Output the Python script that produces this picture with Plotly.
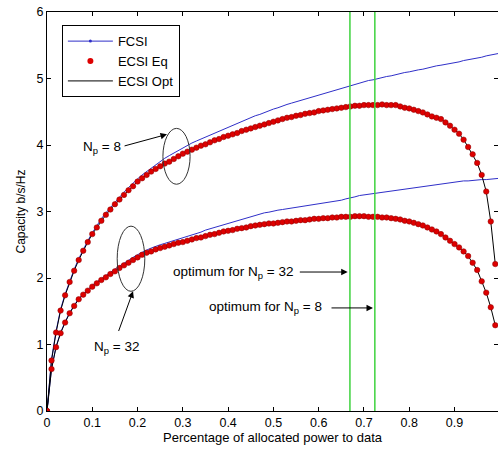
import plotly.graph_objects as go

# ---------------- data ----------------
x_red = [i / 100 for i in range(100)]          # 0.00 ... 0.99
x_blue = [i / 100 for i in range(101)]         # 0.00 ... 1.00

ecsi_np8 = [0.00, 0.76, 1.18, 1.51, 1.74, 1.94, 2.11, 2.27, 2.41, 2.54,
            2.66, 2.76, 2.86, 2.95, 3.03, 3.11, 3.18, 3.25, 3.32, 3.38,
            3.45, 3.50, 3.55, 3.60, 3.64, 3.68, 3.72, 3.75, 3.79, 3.83,
            3.87, 3.90, 3.93, 3.96, 3.99, 4.01, 4.04, 4.07, 4.09, 4.12,
            4.14, 4.16, 4.18, 4.21, 4.23, 4.25, 4.27, 4.29, 4.31, 4.33,
            4.35, 4.37, 4.39, 4.41, 4.42, 4.44, 4.45, 4.47, 4.48, 4.49,
            4.51, 4.52, 4.53, 4.54, 4.55, 4.56, 4.57, 4.58, 4.59, 4.59,
            4.60, 4.60, 4.60, 4.60, 4.61, 4.60, 4.60, 4.60, 4.58, 4.56,
            4.55, 4.53, 4.51, 4.49, 4.46, 4.43, 4.41, 4.39, 4.34, 4.29,
            4.23, 4.17, 4.08, 3.97, 3.86, 3.73, 3.55, 3.30, 2.85, 2.21]

ecsi_np32 = [0.00, 0.63, 0.96, 1.17, 1.33, 1.47, 1.58, 1.68, 1.75, 1.81,
             1.87, 1.92, 1.97, 2.01, 2.06, 2.10, 2.15, 2.19, 2.23, 2.27,
             2.31, 2.35, 2.38, 2.40, 2.43, 2.45, 2.47, 2.49, 2.51, 2.53,
             2.54, 2.56, 2.58, 2.60, 2.61, 2.63, 2.65, 2.66, 2.68, 2.70,
             2.71, 2.72, 2.74, 2.75, 2.76, 2.78, 2.79, 2.80, 2.81, 2.82,
             2.82, 2.83, 2.84, 2.85, 2.85, 2.86, 2.87, 2.87, 2.88, 2.89,
             2.89, 2.90, 2.90, 2.91, 2.91, 2.92, 2.92, 2.92, 2.93, 2.93,
             2.93, 2.92, 2.92, 2.92, 2.91, 2.91, 2.90, 2.89, 2.88, 2.86,
             2.85, 2.83, 2.81, 2.79, 2.76, 2.73, 2.70, 2.66, 2.61, 2.56,
             2.51, 2.46, 2.40, 2.33, 2.23, 2.12, 1.95, 1.78, 1.56, 1.29]

fcsi_np8 = [0.00, 0.78, 1.20, 1.53, 1.76, 1.96, 2.13, 2.29, 2.43, 2.56,
            2.68, 2.79, 2.89, 2.98, 3.06, 3.14, 3.21, 3.29, 3.36, 3.43,
            3.49, 3.55, 3.60, 3.66, 3.71, 3.75, 3.80, 3.84, 3.88, 3.92,
            3.96, 3.99, 4.03, 4.06, 4.09, 4.12, 4.15, 4.18, 4.21, 4.24,
            4.27, 4.30, 4.33, 4.36, 4.38, 4.41, 4.44, 4.46, 4.49, 4.51,
            4.54, 4.56, 4.59, 4.61, 4.63, 4.65, 4.67, 4.69, 4.71, 4.73,
            4.75, 4.77, 4.79, 4.81, 4.83, 4.85, 4.87, 4.89, 4.91, 4.93,
            4.95, 4.97, 4.98, 5.00, 5.01, 5.03, 5.04, 5.06, 5.07, 5.09,
            5.10, 5.12, 5.13, 5.14, 5.16, 5.17, 5.19, 5.20, 5.21, 5.23,
            5.24, 5.25, 5.27, 5.28, 5.30, 5.31, 5.32, 5.34, 5.35, 5.37,
            5.38]

fcsi_np32 = [0.00, 0.64, 0.97, 1.18, 1.34, 1.48, 1.59, 1.69, 1.76, 1.83,
             1.89, 1.94, 1.99, 2.04, 2.09, 2.13, 2.18, 2.22, 2.27, 2.31,
             2.35, 2.39, 2.42, 2.45, 2.48, 2.50, 2.52, 2.54, 2.56, 2.58,
             2.60, 2.62, 2.64, 2.67, 2.69, 2.72, 2.74, 2.76, 2.79, 2.81,
             2.83, 2.85, 2.87, 2.89, 2.91, 2.93, 2.95, 2.96, 2.98, 2.99,
             3.01, 3.02, 3.03, 3.04, 3.06, 3.07, 3.08, 3.09, 3.10, 3.11,
             3.12, 3.13, 3.14, 3.15, 3.16, 3.17, 3.19, 3.20, 3.22, 3.24,
             3.25, 3.26, 3.27, 3.28, 3.29, 3.30, 3.31, 3.32, 3.33, 3.34,
             3.35, 3.36, 3.37, 3.38, 3.39, 3.40, 3.41, 3.42, 3.43, 3.43,
             3.44, 3.45, 3.46, 3.46, 3.47, 3.47, 3.48, 3.48, 3.49, 3.49,
             3.50]

optimum_x = [0.669, 0.724]     # optimum for Np=32, Np=8
x_ticks = [0, 0.1, 0.2, 0.3, 0.4, 0.5, 0.6, 0.7, 0.8, 0.9]
y_ticks = [0, 1, 2, 3, 4, 5, 6]

FONT = "Arial, Liberation Sans, sans-serif"
BLUE = "#2f2fc8"
RED = "#dd0000"

fig = go.Figure()

# FCSI (blue)
for ys in [fcsi_np8, fcsi_np32]:
    fig.add_trace(go.Scatter(
        x=x_blue, y=ys, mode="lines", name="FCSI",
        line=dict(color=BLUE, width=1), showlegend=False))

# ECSI Opt (black line)
for ys in [ecsi_np8, ecsi_np32]:
    fig.add_trace(go.Scatter(
        x=x_red, y=ys, mode="lines", name="ECSI Opt",
        line=dict(color="black", width=1), showlegend=False))

# ECSI Eq (red dots)
for ys in [ecsi_np8, ecsi_np32]:
    fig.add_trace(go.Scatter(
        x=x_red, y=ys, mode="markers", name="ECSI Eq",
        marker=dict(color=RED, size=5.5, line=dict(color="#8a0000", width=0.5)),
        showlegend=False))

# legend-only entries
fig.add_trace(go.Scatter(x=[None], y=[None], mode="lines+markers", name="FCSI",
                         line=dict(color=BLUE, width=1),
                         marker=dict(color=BLUE, size=3)))
fig.add_trace(go.Scatter(x=[None], y=[None], mode="markers", name="ECSI Eq",
                         marker=dict(color=RED, size=6)))
fig.add_trace(go.Scatter(x=[None], y=[None], mode="lines", name="ECSI Opt",
                         line=dict(color="black", width=1)))

# optimum vertical lines
for xo in optimum_x:
    fig.add_shape(type="line", xref="x", yref="paper", x0=xo, x1=xo, y0=0, y1=1,
                  line=dict(color="#3ed23e", width=1.5))

# ellipses
fig.add_shape(type="circle", xref="x", yref="y", x0=0.256, x1=0.316, y0=3.41, y1=4.25,
              line=dict(color="#333333", width=1))
fig.add_shape(type="circle", xref="x", yref="y", x0=0.155, x1=0.216, y0=1.80, y1=2.78,
              line=dict(color="#333333", width=1))

afont = dict(family=FONT, size=13.5, color="black")
texts = [
    ("N<sub>p</sub> = 8", 0.074, 3.96),
    ("N<sub>p</sub> = 32", 0.100, 0.96),
    ("optimum for N<sub>p</sub> = 32", 0.274, 2.09),
    ("optimum for N<sub>p</sub> = 8", 0.353, 1.55),
]
for t, xx, yy in texts:
    fig.add_annotation(x=xx, y=yy, xref="x", yref="y", text=t, showarrow=False,
                       xanchor="left", yanchor="middle", font=afont)

arrows = [
    (0.168, 3.98, 0.265, 4.16),
    (0.157, 1.18, 0.190, 1.80),
    (0.555, 2.09, 0.664, 2.09),
    (0.625, 1.55, 0.720, 1.55),
]
for x0, y0, x1, y1 in arrows:
    fig.add_annotation(x=x1, y=y1, ax=x0, ay=y0, xref="x", yref="y",
                       axref="x", ayref="y", text="", showarrow=True,
                       arrowhead=2, arrowsize=1.3, arrowwidth=1, arrowcolor="black")

fig.update_layout(
    width=498, height=450,
    margin=dict(l=47, r=0, t=12, b=39, autoexpand=False),
    paper_bgcolor="white", plot_bgcolor="white",
    font=dict(family=FONT, size=12, color="black"),
    legend=dict(x=0.033, y=0.967, xanchor="left", yanchor="top",
                bgcolor="white", bordercolor="black", borderwidth=1,
                font=dict(family=FONT, size=13), tracegroupgap=0,
                itemwidth=45),
    showlegend=True,
)
fig.update_xaxes(range=[0, 0.996], tickvals=x_ticks,
                 tickfont=dict(size=12.5),
                 ticks="inside", ticklen=4, tickcolor="black",
                 showline=True, linecolor="black", linewidth=1, mirror="ticks",
                 showgrid=False, zeroline=False, automargin=False,
                 title=dict(text="Percentage of allocated power to data",
                            font=dict(size=13), standoff=3))
fig.update_yaxes(range=[0, 6], tickvals=y_ticks,
                 tickfont=dict(size=12.5),
                 ticks="inside", ticklen=4, tickcolor="black",
                 showline=True, linecolor="black", linewidth=1, mirror="ticks",
                 showgrid=False, zeroline=False, automargin=False,
                 title=dict(text="Capacity b/s/Hz", font=dict(size=12), standoff=8))

# remove the default 8px body margin so the figure fills the window exactly
fig.write_html("out.html",
               config={"displayModeBar": False},
               post_script="document.body.style.margin='0';document.body.style.overflow='hidden';")
